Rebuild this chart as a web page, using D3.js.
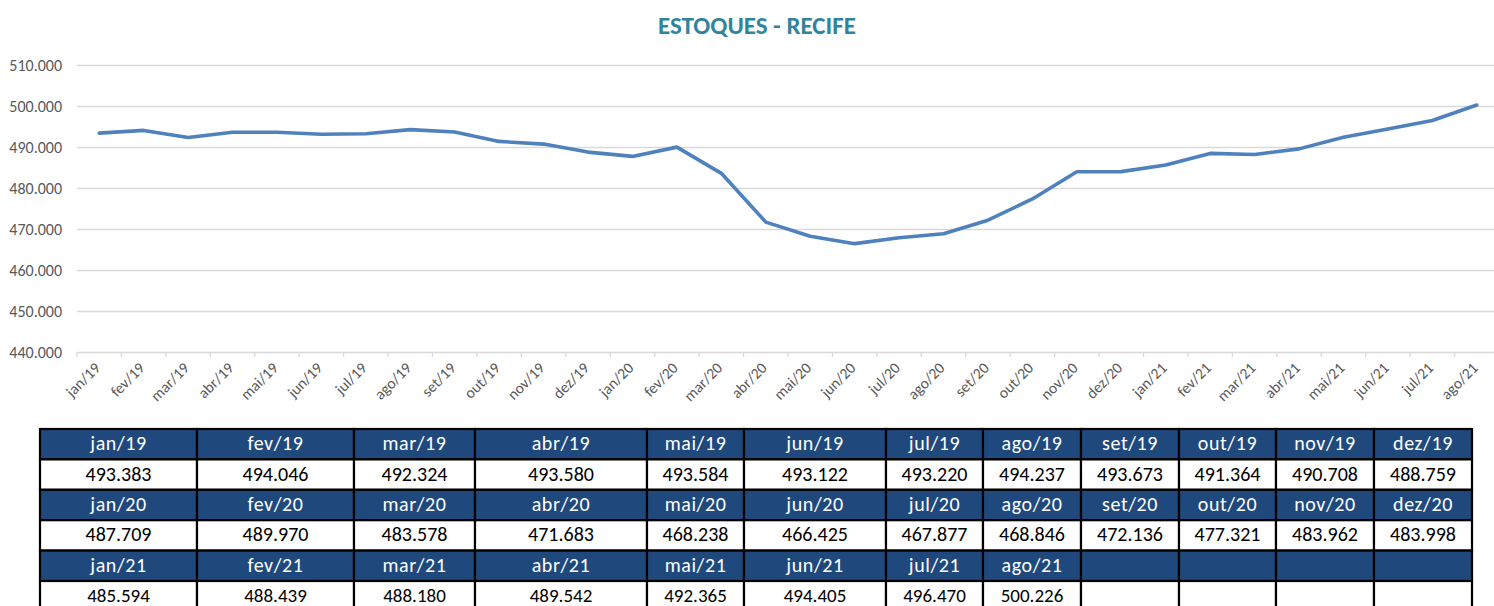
<!DOCTYPE html>
<html>
<head>
<meta charset="utf-8">
<script src="https://cdn.jsdelivr.net/npm/d3@7"></script>
<style>
    body { margin: 0; background: #fff; }
    svg { font-family: Carlito, Lato, "Open Sans", sans-serif; }
</style>
</head>
<body>
<svg class="chart"></svg>
<script>
var months = ["jan/19", "fev/19", "mar/19", "abr/19", "mai/19", "jun/19", "jul/19", "ago/19", "set/19", "out/19", "nov/19", "dez/19",
    "jan/20", "fev/20", "mar/20", "abr/20", "mai/20", "jun/20", "jul/20", "ago/20", "set/20", "out/20", "nov/20", "dez/20",
    "jan/21", "fev/21", "mar/21", "abr/21", "mai/21", "jun/21", "jul/21", "ago/21"];
var stocks = [493383, 494046, 492324, 493580, 493584, 493122, 493220, 494237, 493673, 491364, 490708, 488759,
    487709, 489970, 483578, 471683, 468238, 466425, 467877, 468846, 472136, 477321, 483962, 483998,
    485594, 488439, 488180, 489542, 492365, 494405, 496470, 500226];
var yTicks = [440000, 450000, 460000, 470000, 480000, 490000, 500000, 510000];

const width = 1494;
const height = 606;
const marginTop = 65;
const marginLeft = 77;
const plotRight = 1499;
const plotBottom = 352;

var canvas = d3.select(".chart")
    .attr("width", width)
    .attr("height", height);

// Title
canvas.append("text")
    .attr("x", 757)
    .attr("y", 34)
    .attr("text-anchor", "middle")
    .style("font-size", "25px")
    .style("font-weight", "bold")
    .style("fill", "#31849b")
    .text("ESTOQUES - RECIFE");

/******** Line chart ********/
var x = d3.scaleBand()
    .domain(months)
    .range([marginLeft, plotRight]);

var y = d3.scaleLinear()
    .domain([440000, 510000])
    .range([plotBottom, marginTop]);

var fmt = d3.formatLocale({ decimal: ",", thousands: ".", grouping: [3], currency: ["R$", ""] }).format(",.0f");

// gridlines + y labels
var yAxis = d3.axisLeft(y)
    .tickValues(yTicks)
    .tickSize(-(plotRight - marginLeft))
    .tickPadding(15)
    .tickFormat(fmt);

var yAxisGroup = canvas.append("g")
    .attr("transform", `translate(${marginLeft},0)`)
    .call(yAxis);
yAxisGroup.select(".domain").remove();
yAxisGroup.selectAll("line").attr("stroke", "#d9d9d9").attr("stroke-width", 1.3);
yAxisGroup.selectAll("text")
    .style("font-size", "16px")
    .style("fill", "#595959")
    .style("font-family", "Carlito, Lato, sans-serif");

// x axis with ticks at category boundaries
var xAxisGroup = canvas.append("g")
    .attr("transform", `translate(0,${plotBottom})`);

xAxisGroup.selectAll(".tick-mark")
    .data(months.concat(["end"]))
    .enter()
    .append("line")
    .attr("x1", (d, i) => marginLeft + i * x.step())
    .attr("x2", (d, i) => marginLeft + i * x.step())
    .attr("y1", 0)
    .attr("y2", 5)
    .attr("stroke", "#d9d9d9")
    .attr("stroke-width", 1.3);

xAxisGroup.selectAll(".x-label")
    .data(months)
    .enter()
    .append("text")
    .attr("class", "x-label")
    .attr("transform", d => `translate(${x(d) + x.bandwidth() / 2 + 2},${17}) rotate(-45)`)
    .attr("text-anchor", "end")
    .style("font-size", "15.5px")
    .style("fill", "#595959")
    .text(d => d);

// the line
var line = d3.line()
    .x((d, i) => x(months[i]) + x.bandwidth() / 2)
    .y(d => y(d));

canvas.append("path")
    .datum(stocks)
    .attr("d", line)
    .attr("fill", "none")
    .attr("stroke", "#4f81bd")
    .attr("stroke-width", 3.6)
    .attr("stroke-linejoin", "round")
    .attr("stroke-linecap", "round");

/******** Table ********/
var colEdges = [40, 197, 354, 475, 647, 744, 886, 983, 1081, 1179, 1276, 1374, 1472];
var tableTop = 429;
var rowH = 30.4;

var cells = [];
for (var r = 0; r < 3; r++) {
    for (var c = 0; c < 12; c++) {
        var i = r * 12 + c;
        cells.push({ row: r * 2, col: c, text: i < months.length ? months[i] : "", header: true });
        cells.push({ row: r * 2 + 1, col: c, text: i < stocks.length ? fmt(stocks[i]) : "", header: false });
    }
}

var table = canvas.append("g").attr("class", "table");

table.selectAll("rect")
    .data(cells)
    .enter()
    .append("rect")
    .attr("x", d => colEdges[d.col])
    .attr("y", d => tableTop + d.row * rowH)
    .attr("width", d => colEdges[d.col + 1] - colEdges[d.col])
    .attr("height", rowH)
    .attr("fill", d => d.header ? "#1f497d" : "#fff")
    .attr("stroke", "#000")
    .attr("stroke-width", 2.2);

table.selectAll("text")
    .data(cells)
    .enter()
    .append("text")
    .attr("x", d => (colEdges[d.col] + colEdges[d.col + 1]) / 2)
    .attr("y", d => tableTop + d.row * rowH + rowH / 2 + 6)
    .attr("text-anchor", "middle")
    .style("font-size", d => d.row === 5 ? "19px" : "20px")
    .style("letter-spacing", d => d.header ? "0.6px" : "0px")
    .style("fill", d => d.header ? "#fff" : "#000")
    .text(d => d.text);
</script>
</body>
</html>
